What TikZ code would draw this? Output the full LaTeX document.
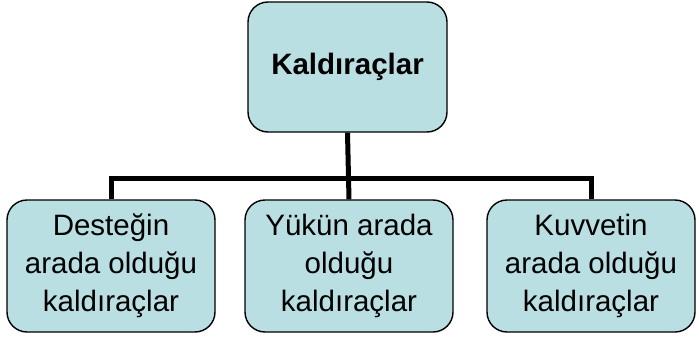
\documentclass[tikz,border=0pt]{standalone}
\usepackage{fontspec}
\setmainfont{Liberation Sans}
\usepackage{tikz}
\usetikzlibrary{positioning}

\begin{document}
\begin{tikzpicture}[x=1pt,y=-1pt,
	kutu/.style={draw=black,line width=1.4pt,fill=kutufill,rounded corners=20pt,align=center,inner sep=0pt,
		font=\fontsize{29.5}{38}\selectfont},
	bag/.style={line width=5pt}]
	\definecolor{kutufill}{HTML}{B9DFE3}
	\useasboundingbox (0,0) rectangle (699,340);
	\node[kutu,minimum width=199pt,minimum height=130pt] (ana) at (347.5,67) {\textbf{Kaldıraçlar}};
	\node[kutu,minimum width=208pt,minimum height=132pt] (sol) at (111,266) {Desteğin\\arada olduğu\\kaldıraçlar};
	\node[kutu,minimum width=208pt,minimum height=132pt] (orta) at (349,266) {Yükün arada\\olduğu\\kaldıraçlar};
	\node[kutu,minimum width=208pt,minimum height=132pt] (sag) at (591,266) {Kuvvetin\\arada olduğu\\kaldıraçlar};
	\coordinate (dal) at (350,178);
	\draw[bag] (ana.south) -- (orta.north);
	\draw[bag] (sol.north) -- (sol.north |- dal) -- (sag.north |- dal) -- (sag.north);
\end{tikzpicture}
\end{document}
